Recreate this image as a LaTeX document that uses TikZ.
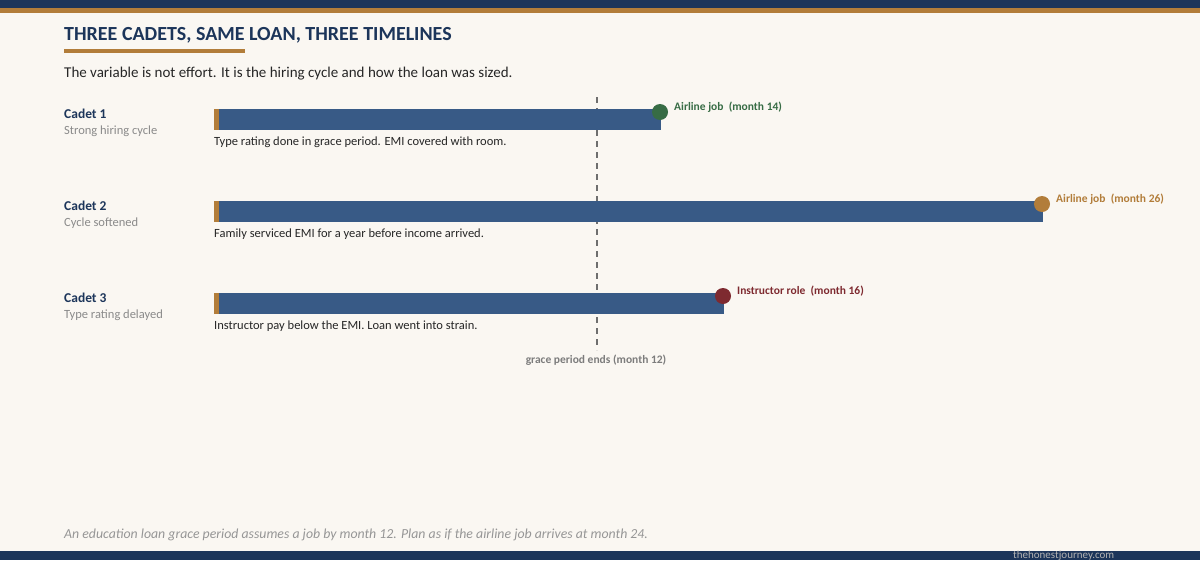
\documentclass[tikz,border=0pt]{standalone}
\usepackage{fontspec}
\setmainfont{Carlito}
\definecolor{navy}{HTML}{1C355A}
\definecolor{gold}{HTML}{B27D3A}
\definecolor{barblue}{HTML}{385A86}
\definecolor{bg}{HTML}{FAF7F2}
\definecolor{greytxt}{HTML}{8A8A8A}
\definecolor{dgreen}{HTML}{376C45}
\definecolor{dred}{HTML}{7E2A30}
\begin{document}
\begin{tikzpicture}[x=1pt,y=-1pt,
  lbl/.style={anchor=west,inner sep=0pt},
  bar/.style={fill=barblue,draw=none},
  stub/.style={fill=gold,draw=none},
  dotm/.style={circle,minimum size=16pt,inner sep=0pt,draw=none}]
\useasboundingbox (0,0) rectangle (1200,560);
\fill[bg] (0,0) rectangle (1200,560);
\fill[navy] (0,0) rectangle (1200,8);
\fill[gold] (0,8) rectangle (1200,13);
\fill[navy] (0,551) rectangle (1200,560);
\node[lbl,text=navy,font=\fontsize{20}{22}\selectfont\bfseries] (title) at (64,35) {THREE CADETS, SAME LOAN, THREE TIMELINES};
\fill[gold] (64,49) rectangle (245,52.5);
\node[lbl,text=black!85,font=\fontsize{15}{17}\selectfont] (sub) at (64,74) {The variable is not effort. It is the hiring cycle and how the loan was sized.};
% grace line
\coordinate (gtop) at (597,97);
\coordinate (gbot) at (597,350);
\draw[greytxt!80!black,line width=1.5pt,dash pattern=on 6pt off 5pt] (gtop) -- (gbot);
\node[text=greytxt!90!black,font=\fontsize{11.5}{13}\selectfont\bfseries] (glab) at (596,360) {grace period ends (month 12)};
% cadet 1
\node[lbl,text=navy,font=\fontsize{13.5}{15}\selectfont\bfseries] (c1) at (64,114) {Cadet 1};
\node[lbl,text=greytxt,font=\fontsize{12.5}{14}\selectfont] (c1s) at (64,131) {Strong hiring cycle};
\fill[bar] (214,109) rectangle (661,130);
\fill[stub] (214,109) rectangle (219,130);
\node[dotm,fill=dgreen] (d1) at (660,112) {};
\node[lbl,text=dgreen,font=\fontsize{11.5}{13}\selectfont\bfseries] (m1) at (674,107) {Airline job\ \ (month 14)};
\node[lbl,text=black!85,font=\fontsize{12.5}{14}\selectfont] (t1) at (214,142) {Type rating done in grace period. EMI covered with room.};
% cadet 2
\node[lbl,text=navy,font=\fontsize{13.5}{15}\selectfont\bfseries] (c2) at (64,206) {Cadet 2};
\node[lbl,text=greytxt,font=\fontsize{12.5}{14}\selectfont] (c2s) at (64,223) {Cycle softened};
\fill[bar] (214,201) rectangle (1043,222);
\fill[stub] (214,201) rectangle (219,222);
\node[dotm,fill=gold] (d2) at (1042,204) {};
\node[lbl,text=gold,font=\fontsize{11.5}{13}\selectfont\bfseries] (m2) at (1056,199) {Airline job\ \ (month 26)};
\node[lbl,text=black!85,font=\fontsize{12.5}{14}\selectfont] (t2) at (214,234) {Family serviced EMI for a year before income arrived.};
% cadet 3
\node[lbl,text=navy,font=\fontsize{13.5}{15}\selectfont\bfseries] (c3) at (64,298) {Cadet 3};
\node[lbl,text=greytxt,font=\fontsize{12.5}{14}\selectfont] (c3s) at (64,315) {Type rating delayed};
\fill[bar] (214,293) rectangle (724,314);
\fill[stub] (214,293) rectangle (219,314);
\node[dotm,fill=dred] (d3) at (723,296) {};
\node[lbl,text=dred,font=\fontsize{11.5}{13}\selectfont\bfseries] (m3) at (737,291) {Instructor role\ \ (month 16)};
\node[lbl,text=black!85,font=\fontsize{12.5}{14}\selectfont] (t3) at (214,326) {Instructor pay below the EMI. Loan went into strain.};
% footer
\node[lbl,text=greytxt!90,font=\fontsize{13.8}{15}\selectfont\itshape] (foot) at (64,535) {An education loan grace period assumes a job by month 12. Plan as if the airline job arrives at month 24.};
\node[lbl,text=gray!60,font=\fontsize{11}{13}\selectfont] (site) at (1013,556) {thehonestjourney.com};
\end{tikzpicture}
\end{document}
